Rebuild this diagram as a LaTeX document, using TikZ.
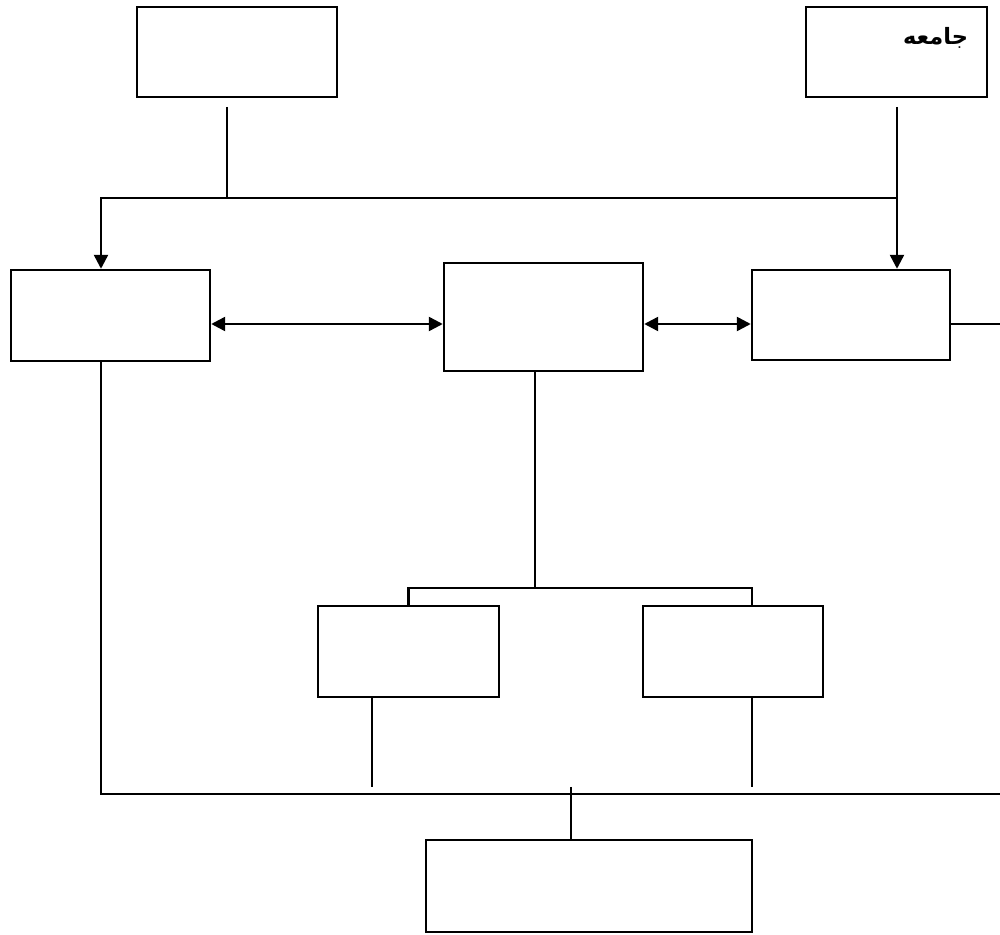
\documentclass[tikz,border=0pt]{standalone}
\usepackage{fontspec}
\newfontfamily\arabicfont[Script=Arabic]{DejaVu Sans}
\TeXXeTstate=1
\usetikzlibrary{arrows.meta,positioning}

\begin{document}
\begin{tikzpicture}[x=0.1mm, y=-0.1mm, line width=0.7pt,
  box/.style   = {rectangle, draw, line width=0.7pt, minimum width=20mm, minimum height=9mm, inner sep=0pt},
  tip/.style   = {-{Triangle[length=1.4mm, width=1.4mm]}},
  both/.style  = {{Triangle[length=1.4mm, width=1.4mm]}-{Triangle[length=1.4mm, width=1.4mm]}},
  ]
  \useasboundingbox (0,0) rectangle (1000,935);
  % boxes
  \node[box] (tl)  at (237,52)      {};
  \node[box, minimum width=18.1mm] (soc) at (896.5,52) {};
  \node[box, minimum width=19.9mm, minimum height=9.1mm] (lf) at (110.5,315.5) {};
  \node[box, minimum width=19.9mm, minimum height=10.8mm] (md) at (543.5,317) {};
  \node[box, minimum width=19.8mm] (rt)  at (851,315) {};
  \node[box, minimum width=18.1mm, minimum height=9.1mm] (ll) at (408.5,651.5) {};
  \node[box, minimum width=18mm, minimum height=9.1mm]   (lr) at (733,651.5) {};
  \node[box, minimum width=32.6mm, minimum height=9.2mm] (bt) at (589,886) {};
  % labels
  \node[anchor=north east, inner sep=0pt, font=\fontsize{6.4}{8}\selectfont\bfseries\arabicfont]
    (socname) at ([xshift=-1.9mm, yshift=-2mm]soc.north east) {\beginR جامعه\endR};
  % junctions
  \coordinate (tle)  at (227,107);
  \coordinate (jt)   at (227,198);
  \coordinate (ja)   at (101,198);
  \coordinate (jc)   at (897,198);
  \coordinate (sce)  at (897,107);
  \coordinate (arow) at (0,324);
  \coordinate (rte)  at (1000,324);
  \coordinate (jm)   at (535,588);
  \coordinate (jr)   at (752,588);
  \coordinate (lle)  at (372,787);
  \coordinate (lre)  at (752,787);
  \coordinate (jb)   at (101,794);
  \coordinate (be)   at (1000,794);
  \coordinate (bte)  at (571,787);
  % connectors
  \draw (tle) -- (jt);
  \draw[tip] (jc) -- (ja) -- (ja |- lf.north);
  \draw[tip] (sce) -- (rt.north -| sce);
  \draw[both] (lf.east |- arow) -- (md.west |- arow);
  \draw[both] (md.east |- arow) -- (rt.west |- arow);
  \draw (rt.east |- arow) -- (rte);
  \draw (md.south -| jm) -- (jm);
  \draw (ll.north) |- (jr) -- (jr |- lr.north);
  \draw (ll.south -| lle) -- (lle);
  \draw (lr.south -| lre) -- (lre);
  \draw (lf.south -| jb) -- (jb) -- (be);
  \draw (bte) -- (bt.north -| bte);
\end{tikzpicture}
\end{document}
